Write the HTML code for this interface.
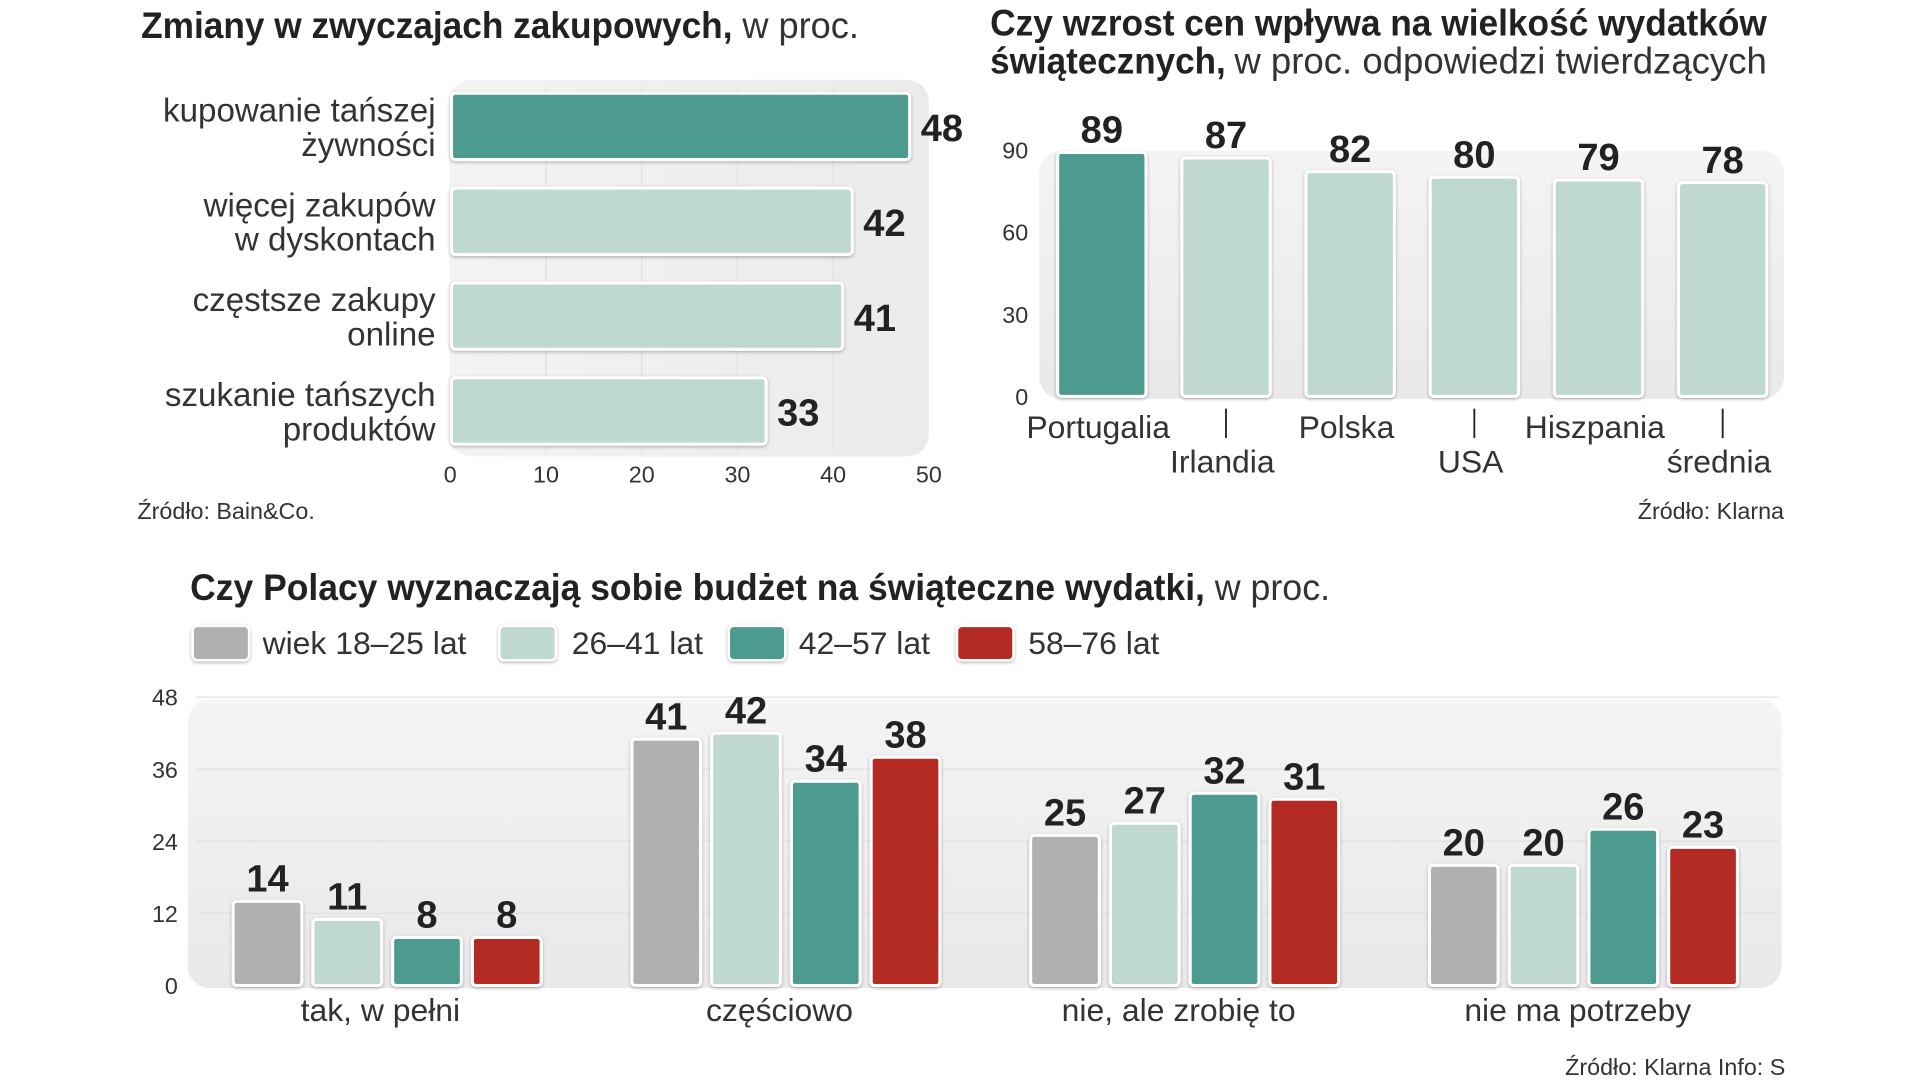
<!DOCTYPE html>
<html><head><meta charset="utf-8">
<style>
html,body{margin:0;padding:0;background:#fff;width:1919px;height:1080px;overflow:hidden}
svg{display:block}
text{font-family:"Liberation Sans Narrow","Liberation Sans",sans-serif;fill:#222}
.b{font-weight:bold}
.l{font-weight:normal;fill:#333}
</style></head>
<body>
<svg id="svg" width="1919" height="1080" viewBox="0 0 1564 880" preserveAspectRatio="none" xmlns="http://www.w3.org/2000/svg">
<defs>
<filter id="sh" x="-20%" y="-20%" width="140%" height="140%"><feDropShadow dx="0" dy="1" stdDeviation="1.2" flood-color="#000" flood-opacity="0.3"/></filter>
<linearGradient id="bg1" x1="0" y1="0" x2="1" y2="0"><stop offset="0" stop-color="#f3f3f3"/><stop offset="1" stop-color="#ebebeb"/></linearGradient>
<linearGradient id="bg2" x1="0" y1="0" x2="0" y2="1"><stop offset="0" stop-color="#f4f4f4"/><stop offset="1" stop-color="#e9e9e9"/></linearGradient>
</defs>
<!-- titles -->
<text x="115" y="31" font-size="30" class="b" textLength="482" lengthAdjust="spacingAndGlyphs">Zmiany w zwyczajach zakupowych,</text>
<text x="605" y="31" font-size="30" class="l" textLength="95" lengthAdjust="spacingAndGlyphs">w proc.</text>
<text x="807" y="29" font-size="30" class="b" textLength="633" lengthAdjust="spacingAndGlyphs">Czy wzrost cen wpływa na wielkość wydatków</text>
<text x="807" y="60" font-size="30" class="b" textLength="192" lengthAdjust="spacingAndGlyphs">świątecznych,</text>
<text x="1006" y="60" font-size="30" class="l" textLength="434" lengthAdjust="spacingAndGlyphs">w proc. odpowiedzi twierdzących</text>
<text x="155" y="489" font-size="30" class="b" textLength="827" lengthAdjust="spacingAndGlyphs">Czy Polacy wyznaczają sobie budżet na świąteczne wydatki,</text>
<text x="990" y="489" font-size="30" class="l" textLength="94" lengthAdjust="spacingAndGlyphs">w proc.</text>
<!-- backgrounds -->
<rect x="366" y="65" width="391" height="307" rx="18" fill="url(#bg1)"/>
<rect x="847" y="123" width="607" height="202" rx="18" fill="url(#bg2)"/>
<rect x="153" y="570" width="1299" height="235" rx="18" fill="url(#bg2)"/>
<g id="c1"></g>
<g id="c2"></g>
<g id="c3"></g>
<!-- sources -->
<text x="112" y="423" font-size="19" class="l">Źródło: Bain&amp;Co.</text>
<text x="1454" y="423" font-size="19" class="l" text-anchor="end">Źródło: Klarna</text>
<text x="1455" y="876" font-size="19" class="l" text-anchor="end">Źródło: Klarna   Info: S</text>
<!-- legend -->
<g>
<rect x="157" y="510" width="46" height="28" rx="4" fill="#b0b0b2" stroke="#fff" stroke-width="2" filter="url(#sh)"/>
<text x="214" y="533" font-size="26" class="l">wiek 18–25 lat</text>
<rect x="407" y="510" width="46" height="28" rx="4" fill="#bfd9d2" stroke="#fff" stroke-width="2" filter="url(#sh)"/>
<text x="466" y="533" font-size="26" class="l">26–41 lat</text>
<rect x="594" y="510" width="46" height="28" rx="4" fill="#4e9a8e" stroke="#fff" stroke-width="2" filter="url(#sh)"/>
<text x="651" y="533" font-size="26" class="l">42–57 lat</text>
<rect x="780" y="510" width="46" height="28" rx="4" fill="#b22c22" stroke="#fff" stroke-width="2" filter="url(#sh)"/>
<text x="838" y="533" font-size="26" class="l">58–76 lat</text>
</g>
</svg>
<script>
// Chart 1 data
const c1Cats = [["kupowanie tańszej","żywności"],["więcej zakupów","w dyskontach"],["częstsze zakupy","online"],["szukanie tańszych","produktów"]];
const c1Vals = [48, 42, 41, 33];
const c1Ticks = [0, 10, 20, 30, 40, 50];
// Chart 2 data
const c2Cats = ["Portugalia","Irlandia","Polska","USA","Hiszpania","średnia"];
const c2Vals = [89, 87, 82, 80, 79, 78];
const c2Ticks = [0, 30, 60, 90];
// Chart 3 data
const c3Cats = ["tak, w pełni","częściowo","nie, ale zrobię to","nie ma potrzeby"];
const c3Series1825 = [14, 41, 25, 20];
const c3Series2641 = [11, 42, 27, 20];
const c3Series4257 = [8, 34, 32, 26];
const c3Series5876 = [8, 38, 31, 23];
const c3Ticks = [0, 12, 24, 36, 48];

const NS = "http://www.w3.org/2000/svg";
function mk(parent, tag, attrs, txt){
  const e = document.createElementNS(NS, tag);
  for (const k in attrs) e.setAttribute(k, attrs[k]);
  if (txt !== undefined) e.textContent = txt;
  parent.appendChild(e);
  return e;
}
const TEAL="#4e9a8e", LIGHT="#bfd9d2", GRAY="#b0b0b2", RED="#b22c22";

// ---- Chart 1 (horizontal bars)
(function(){
  const g = document.getElementById('c1');
  const x = v => 367 + v * 7.8;
  const yc = i => 103 + i * 77.3;
  c1Ticks.forEach(t => {
    if (t > 0 && t < 50) {
      const gl = mk(g, 'line', {x1:x(t), x2:x(t), y1:70, y2:368, stroke:'#e2e2e2', 'stroke-width':1});
      
      
    }
    const tl = mk(g, 'text', {x:x(t), y:393, 'font-size':19, 'text-anchor':'middle', class:'l'}, String(t));
    
    
  });
  c1Vals.forEach((v, i) => {
    const r = mk(g, 'rect', {x:x(0)+1, y:yc(i)-27, width:x(v)-x(0)-1, height:54, rx:3, fill: i===0?TEAL:LIGHT, stroke:'#fff', 'stroke-width':2.5, filter:'url(#sh)'});
    
    
    const vl = mk(g, 'text', {x:x(v)+9, y:yc(i)+12, 'font-size':31, class:'b'}, String(v));
    
    
    c1Cats[i].forEach((line, j) => {
      const cl = mk(g, 'text', {x:355, y:yc(i)-4+j*28, 'font-size':27, 'text-anchor':'end', class:'l'}, line);
      
      
    });
  });
})();

// ---- Chart 2 (vertical bars)
(function(){
  const g = document.getElementById('c2');
  const y = v => 323 - v * 2.233;
  const xc = i => 898 + i * 101.2;
  c2Ticks.forEach(t => {
    const tl = mk(g, 'text', {x:838, y:y(t)+7, 'font-size':19, 'text-anchor':'end', class:'l'}, String(t));
    
    
  });
  c2Vals.forEach((v, i) => {
    const r = mk(g, 'rect', {x:xc(i)-36, y:y(v), width:72, height:y(0)-y(v), rx:3, fill: i===0?TEAL:LIGHT, stroke:'#fff', 'stroke-width':2.5, filter:'url(#sh)'});
    
    
    const vl = mk(g, 'text', {x:xc(i), y:y(v)-8, 'font-size':31, 'text-anchor':'middle', class:'b'}, String(v));
    
    
    const low = i % 2 === 1;
    if (low) {
      const tk = mk(g, 'line', {x1:xc(i), x2:xc(i), y1:333, y2:357, stroke:'#222', 'stroke-width':1.5});
      
      
    }
    const cl = mk(g, 'text', {x:xc(i)-3, y: low?385:357, 'font-size':26, 'text-anchor':'middle', class:'l'}, c2Cats[i]);
    
    
  });
})();

// ---- Chart 3 (grouped bars)
(function(){
  const g = document.getElementById('c3');
  const y = v => 803 - v * 4.896;
  const series = [c3Series1825, c3Series2641, c3Series4257, c3Series5876];
  const colors = [GRAY, LIGHT, TEAL, RED];
  c3Ticks.forEach(t => {
    if (t > 0) {
      const gl = mk(g, 'line', {x1:160, x2:1450, y1:y(t), y2:y(t), stroke:'#e0e0e0', 'stroke-width':1});
      
      
    }
    const tl = mk(g, 'text', {x:145, y:y(t)+7, 'font-size':19, 'text-anchor':'end', class:'l'}, String(t));
    
    
  });
  c3Cats.forEach((c, gi) => {
    series.forEach((s, si) => {
      const cx = 218 + gi * 325 + si * 65;
      const v = s[gi];
      const r = mk(g, 'rect', {x:cx-28, y:y(v), width:56, height:y(0)-y(v), rx:3, fill:colors[si], stroke:'#fff', 'stroke-width':2.5, filter:'url(#sh)'});
      
      
      const vl = mk(g, 'text', {x:cx, y:y(v)-8, 'font-size':31, 'text-anchor':'middle', class:'b'}, String(v));
      
      
    });
    const cl = mk(g, 'text', {x:310 + gi * 325.3, y:832, 'font-size':26, 'text-anchor':'middle', class:'l'}, c);
    
    
  });
})();
</script>
</body></html>
